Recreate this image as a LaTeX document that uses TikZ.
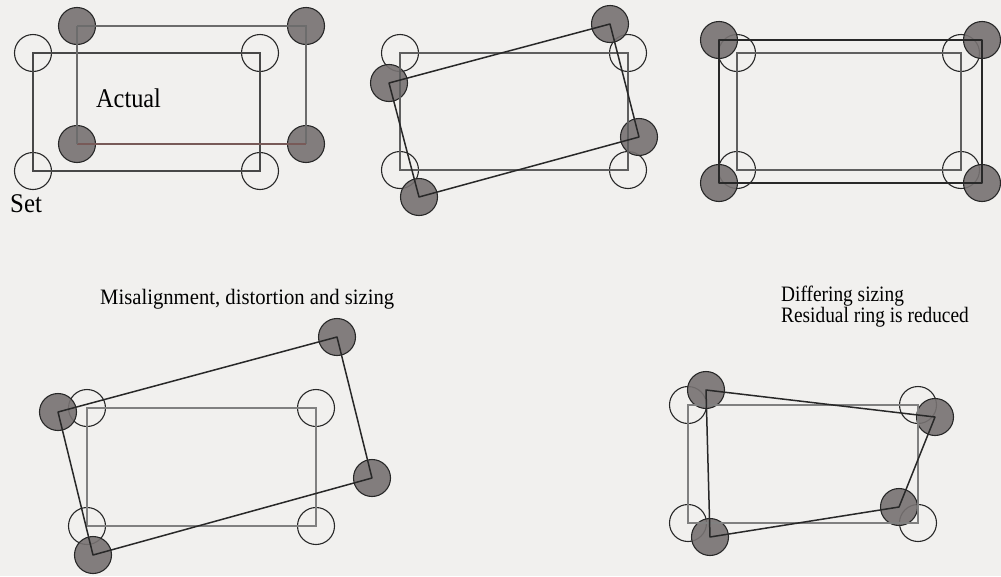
\documentclass[tikz,border=0pt]{standalone}
\usepackage{fontspec}
\setmainfont{Liberation Serif}
\usepackage{graphicx}
\definecolor{paper}{RGB}{241,240,238}
\definecolor{ink}{RGB}{40,40,40}
\definecolor{setgray}{RGB}{95,95,95}
\definecolor{ballfill}{RGB}{118,113,113}
\definecolor{rustgray}{RGB}{120,90,88}
\tikzset{
  setpin/.style={circle,draw=ink,line width=1.1pt,minimum size=37pt,inner sep=0pt},
  ball/.style={circle,draw=ink,line width=1.1pt,fill=ballfill,fill opacity=0.9,minimum size=37pt,inner sep=0pt},
  setline/.style={draw=setgray,line width=1.3pt,line join=miter},
  actline/.style={draw=ink,line width=1.5pt,line join=round},
  biglabel/.style={anchor=base west,inner sep=0pt,font=\fontsize{27}{27}\selectfont},
  caption/.style={anchor=base west,inner sep=0pt,font=\fontsize{22}{24}\selectfont}
}
\newcommand{\squeeze}[2][0.9]{\scalebox{#1}[1]{#2}}
\begin{document}
\begin{tikzpicture}[x=1pt,y=-1pt]
\fill[paper] (0,0) rectangle (1001,576);
\useasboundingbox (0,0) rectangle (1001,576);

% ---- top left: offset without rotation ----
\node[setpin] (a1) at (33,53) {};
\node[setpin] (a2) at (260,53) {};
\node[setpin] (a3) at (260,171) {};
\node[setpin] (a4) at (33,171) {};
\node[ball] (A1) at (77,26) {};
\node[ball] (A2) at (306,26) {};
\node[ball] (A3) at (306,144) {};
\node[ball] (A4) at (77,144) {};
\draw[setline,draw=ink!85] (a1.center) -- (a2.center) -- (a3.center) -- (a4.center) -- cycle;
\draw[setline,draw=gray!85!black] (A1.center) -- (A2.center) -- (A3.center);
\draw[setline,draw=rustgray] (A3.center) -- (A4.center);
\draw[setline,draw=gray!85!black] (A4.center) -- (A1.center);
\node[biglabel] (lblactual) at (96,107) {\squeeze[0.9]{Actual}};
\node[biglabel] (lblset) at (10,212) {\squeeze[0.92]{Set}};

% ---- top middle: misalignment, distortion and sizing ----
\node[setpin] (b1) at (400,53) {};
\node[setpin] (b2) at (628,53) {};
\node[setpin] (b3) at (628,170) {};
\node[setpin] (b4) at (400,170) {};
\node[ball] (B1) at (389,83) {};
\node[ball] (B2) at (610,24) {};
\node[ball] (B3) at (639,137) {};
\node[ball] (B4) at (419,197) {};
\draw[setline] (b1.center) -- (b2.center) -- (b3.center) -- (b4.center) -- cycle;
\draw[actline] (B1.center) -- (B2.center) -- (B3.center) -- (B4.center) -- cycle;

% ---- top right: differing sizing ----
\node[setpin] (c1) at (737,53) {};
\node[setpin] (c2) at (961,53) {};
\node[setpin] (c3) at (961,170) {};
\node[setpin] (c4) at (737,170) {};
\node[ball] (C1) at (719,40) {};
\node[ball] (C2) at (982,40) {};
\node[ball] (C3) at (982,183) {};
\node[ball] (C4) at (719,183) {};
\draw[setline] (c1.center) -- (c2.center) -- (c3.center) -- (c4.center) -- cycle;
\draw[actline] (C1.center) -- (C2.center) -- (C3.center) -- (C4.center) -- cycle;

% ---- captions ----
\node[caption] (cap1) at (100,304) {\squeeze[0.94]{Misalignment, distortion and sizing}};
\node[caption] (cap2) at (781,301) {\squeeze[0.88]{Differing sizing}};
\node[caption] (cap3) at (781,322) {\squeeze[0.88]{Residual ring is reduced}};

% ---- bottom left ----
\node[setpin] (d1) at (87,408) {};
\node[setpin] (d2) at (316,408) {};
\node[setpin] (d3) at (316,526) {};
\node[setpin] (d4) at (87,526) {};
\node[ball] (D1) at (58,412) {};
\node[ball] (D2) at (337,337) {};
\node[ball] (D3) at (372,478) {};
\node[ball] (D4) at (93,555) {};
\draw[setline,draw=gray] (d1.center) -- (d2.center) -- (d3.center) -- (d4.center) -- cycle;
\draw[actline] (D1.center) -- (D2.center) -- (D3.center) -- (D4.center) -- cycle;

% ---- bottom right: residual ring reduced ----
\node[setpin] (e1) at (688,405) {};
\node[setpin] (e2) at (918,405) {};
\node[setpin] (e3) at (918,523) {};
\node[setpin] (e4) at (688,523) {};
\node[ball] (E1) at (706,390) {};
\node[ball] (E2) at (935,417) {};
\node[ball] (E3) at (899,507) {};
\node[ball] (E4) at (710,537) {};
\draw[setline,draw=gray] (e1.center) -- (e2.center) -- (e3.center) -- (e4.center) -- cycle;
\draw[actline] (E1.center) -- (E2.center) -- (E3.center) -- (E4.center) -- cycle;
\end{tikzpicture}
\end{document}
